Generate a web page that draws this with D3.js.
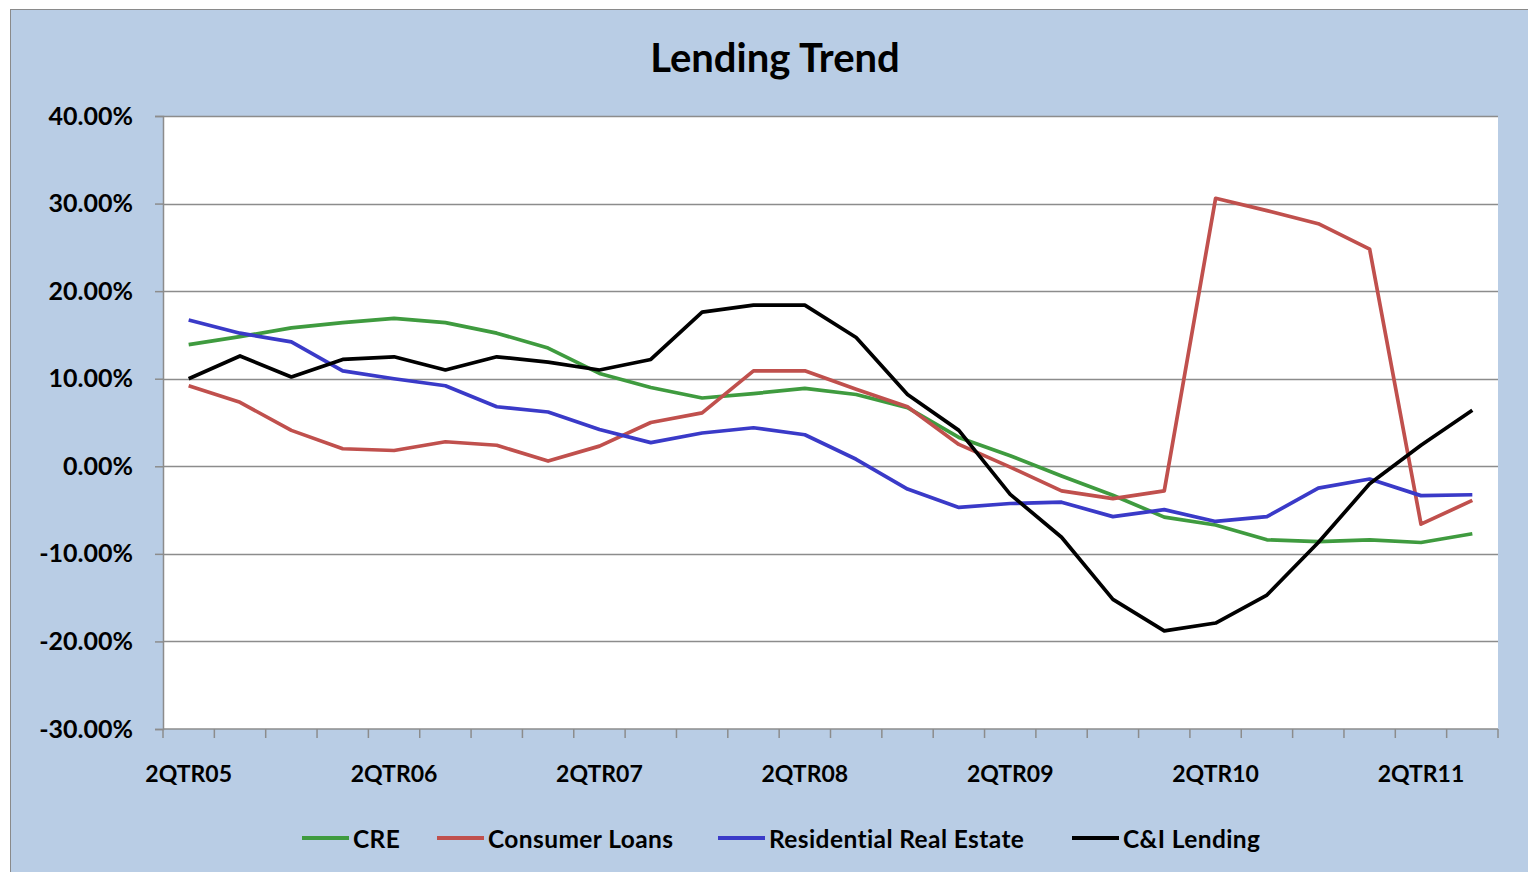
<!DOCTYPE html>
<html>
<head>
<meta charset="utf-8">
<script src="https://cdn.jsdelivr.net/npm/d3@7"></script>
<style>
  html, body { margin: 0; padding: 0; background: #ffffff; }
  svg { display: block; }
  text { font-family: Lato, "Open Sans", sans-serif; }
</style>
</head>
<body>
<svg id="chart" width="1528" height="872"></svg>
<script>
const categories = ["2QTR05","3QTR05","4QTR05","1QTR06","2QTR06","3QTR06","4QTR06","1QTR07","2QTR07","3QTR07","4QTR07","1QTR08","2QTR08","3QTR08","4QTR08","1QTR09","2QTR09","3QTR09","4QTR09","1QTR10","2QTR10","3QTR10","4QTR10","1QTR11","2QTR11","3QTR11"];
const cre = [13.9,14.8,15.8,16.4,16.9,16.4,15.2,13.5,10.6,9.0,7.8,8.3,8.9,8.2,6.7,3.3,1.2,-1.1,-3.3,-5.8,-6.7,-8.4,-8.6,-8.4,-8.7,-7.7];
const consumerLoans = [9.2,7.3,4.1,2.0,1.8,2.8,2.4,0.6,2.3,5.0,6.1,10.9,10.9,8.8,6.8,2.5,-0.1,-2.8,-3.7,-2.8,30.6,29.2,27.7,24.8,-6.6,-3.9];
const residential = [16.7,15.2,14.2,10.9,10.0,9.2,6.8,6.2,4.2,2.7,3.8,4.4,3.6,0.8,-2.6,-4.7,-4.25,-4.1,-5.75,-4.95,-6.3,-5.75,-2.5,-1.45,-3.35,-3.25];
const ciLending = [10.0,12.6,10.2,12.2,12.5,11.0,12.5,11.9,11.0,12.2,17.6,18.4,18.4,14.7,8.2,4.1,-3.2,-8.1,-15.2,-18.8,-17.9,-14.7,-8.7,-2.0,2.4,6.4];
const seriesNames = ["CRE","Consumer Loans","Residential Real Estate","C&I Lending"];
const seriesColors = ["#3f9b3f","#c0504d","#3a3ac8","#000000"];
const yTicks = [-30,-20,-10,0,10,20,30,40];
const xLabelTicks = ["2QTR05","2QTR06","2QTR07","2QTR08","2QTR09","2QTR10","2QTR11"];
const title = "Lending Trend";

const seriesValues = [cre, consumerLoans, residential, ciLending];

const svg = d3.select("#chart");

// outer chart background
svg.append("rect")
  .attr("x", 10.5).attr("y", 9.5).attr("width", 1530).attr("height", 880)
  .attr("fill", "#b9cde5").attr("stroke", "#8a8a8a").attr("stroke-width", 1);

const plot = {left: 163, right: 1498, top: 116, bottom: 729};

svg.append("rect")
  .attr("x", plot.left).attr("y", plot.top)
  .attr("width", plot.right - plot.left).attr("height", plot.bottom - plot.top)
  .attr("fill", "#ffffff");

const x = d3.scaleBand().domain(categories).range([plot.left, plot.right]).padding(0);
const y = d3.scaleLinear().domain([-30, 40]).range([plot.bottom, plot.top]);
const xc = c => x(c) + x.bandwidth() / 2;

// gridlines
svg.append("g").selectAll("line").data(yTicks.filter(d => d > -30)).join("line")
  .attr("x1", plot.left).attr("x2", plot.right)
  .attr("y1", d => Math.round(y(d)) + 0.5).attr("y2", d => Math.round(y(d)) + 0.5)
  .attr("stroke", "#8c8c8c").attr("stroke-width", 1.5);

// y axis
const yAxis = d3.axisLeft(y).tickValues(yTicks).tickSize(8).tickPadding(22)
  .tickFormat(d => d3.format(".2f")(d).replace("\u2212", "-") + "%");
const gy = svg.append("g").attr("transform", `translate(${plot.left},0)`).call(yAxis);
gy.select(".domain").attr("stroke", "#8c8c8c").attr("stroke-width", 1.5);
gy.selectAll(".tick line").attr("stroke", "#8c8c8c").attr("stroke-width", 1.5);
gy.selectAll(".tick text")
  .attr("font-family", "Lato, 'Open Sans', sans-serif")
  .attr("font-size", 25).attr("font-weight", "bold").attr("fill", "#000");

// x axis: ticks at category boundaries
const boundaries = categories.map(c => x(c)).concat([plot.right]);
const gx = svg.append("g");
gx.append("line")
  .attr("x1", plot.left).attr("x2", plot.right)
  .attr("y1", plot.bottom).attr("y2", plot.bottom)
  .attr("stroke", "#8c8c8c").attr("stroke-width", 1.5);
gx.selectAll("line.tk").data(boundaries).join("line").attr("class", "tk")
  .attr("x1", d => d).attr("x2", d => d)
  .attr("y1", plot.bottom).attr("y2", plot.bottom + 9)
  .attr("stroke", "#8c8c8c").attr("stroke-width", 1.5);
gx.selectAll("text").data(xLabelTicks).join("text")
  .attr("x", d => xc(d)).attr("y", 773)
  .attr("text-anchor", "middle").attr("dominant-baseline", "central")
  .attr("font-size", 23).attr("font-weight", "bold").attr("fill", "#000")
  .text(d => d);

// lines
const line = d3.line().x((d, i) => xc(categories[i])).y(d => y(d));
svg.append("g").selectAll("path").data(seriesValues).join("path")
  .attr("d", d => line(d))
  .attr("fill", "none")
  .attr("stroke", (d, i) => seriesColors[i])
  .attr("stroke-width", 3.7)
  .attr("stroke-linejoin", "round");

// title
svg.append("text")
  .attr("x", 775).attr("y", 57)
  .attr("text-anchor", "middle").attr("dominant-baseline", "central")
  .attr("font-size", 40).attr("font-weight", "bold").attr("fill", "#000")
  .text(title);

// legend
const legendX = [302, 437, 718, 1072];
const lg = svg.append("g").selectAll("g").data(seriesNames).join("g")
  .attr("transform", (d, i) => `translate(${legendX[i]},838)`);
lg.append("line").attr("x1", 0).attr("x2", 47).attr("y1", 0).attr("y2", 0)
  .attr("stroke", (d, i) => seriesColors[i]).attr("stroke-width", 4);
lg.append("text").attr("x", 51).attr("y", 0)
  .attr("dominant-baseline", "central")
  .attr("font-size", 24.5).attr("font-weight", "bold").attr("fill", "#000")
  .attr("letter-spacing", 0.4)
  .text(d => d);
</script>
</body>
</html>
